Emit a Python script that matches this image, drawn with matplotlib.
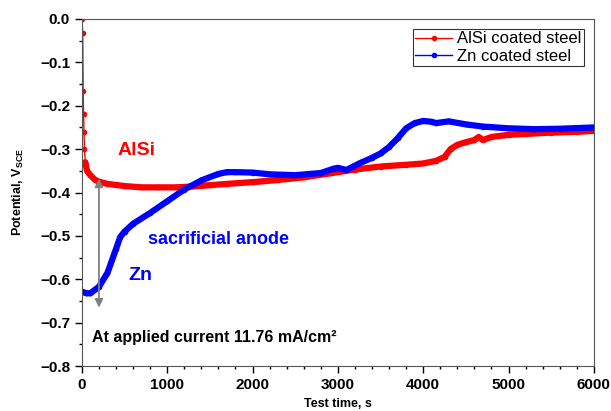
import matplotlib
matplotlib.use("Agg")
import matplotlib.pyplot as plt

plt.rcParams["font.family"] = ["Liberation Sans", "DejaVu Sans"]
plt.rcParams["mathtext.fontset"] = "custom"
plt.rcParams["mathtext.rm"] = "Liberation Sans"
plt.rcParams["mathtext.bf"] = "Liberation Sans:bold"

# AlSi coated steel (time in s, potential in V vs SCE)
alsi_t = [0, 10, 15, 20, 25, 30, 40, 60, 100, 150, 200, 300, 500, 700, 900, 1100,
          1300, 1500, 1700, 2000, 2300, 2600, 2900, 3200, 3500, 3800, 4000, 4150,
          4250, 4320, 4400, 4500, 4600, 4650, 4700, 4800, 5000, 5200, 5500, 5800, 6000]
alsi_v = [-0.0, -0.033, -0.165, -0.22, -0.26, -0.30, -0.33, -0.35, -0.36, -0.37,
          -0.375, -0.38, -0.385, -0.388, -0.388, -0.388, -0.386, -0.383, -0.38,
          -0.376, -0.371, -0.365, -0.356, -0.347, -0.34, -0.336, -0.333, -0.327,
          -0.318, -0.30, -0.29, -0.284, -0.279, -0.272, -0.279, -0.272, -0.267,
          -0.265, -0.262, -0.26, -0.258]

# Zn coated steel
zn_t = [0, 50, 100, 200, 300, 400, 450, 500, 600, 800, 1000, 1200, 1400, 1600,
        1700, 1800, 2000, 2200, 2500, 2800, 2950, 3000, 3100, 3250, 3400, 3500,
        3600, 3700, 3800, 3900, 4000, 4100, 4150, 4300, 4500, 4700, 5000, 5300,
        5600, 6000]
zn_v = [-0.628, -0.632, -0.632, -0.617, -0.585, -0.53, -0.502, -0.49, -0.472,
        -0.447, -0.42, -0.393, -0.372, -0.357, -0.353, -0.353, -0.354, -0.358,
        -0.36, -0.355, -0.345, -0.343, -0.348, -0.333, -0.32, -0.31, -0.295,
        -0.275, -0.252, -0.24, -0.235, -0.237, -0.24, -0.236, -0.243, -0.248,
        -0.252, -0.254, -0.253, -0.25]

RED = "#ff0000"
BLUE = "#0000ff"

fig = plt.figure(figsize=(6.11, 4.11), dpi=100)
ax = fig.add_axes([0.134, 0.109, 0.838, 0.845])

# thin line with dots (also used for the legend), then a thick trace on top
ax.plot(alsi_t, alsi_v, color=RED, lw=1, marker="o", ms=3, label="AlSi coated steel")
ax.plot(alsi_t[6:], alsi_v[6:], color=RED, lw=4.5, solid_capstyle="round")
ax.plot(zn_t, zn_v, color=BLUE, lw=1, marker="o", ms=3, label="Zn coated steel")
ax.plot(zn_t, zn_v, color=BLUE, lw=4.5, solid_capstyle="round")

# gray double-headed arrow showing potential gap
ax.annotate("", xy=(200, -0.665), xytext=(200, -0.368),
            arrowprops=dict(arrowstyle="<|-|>", color="#808080", lw=1.3,
                            mutation_scale=12, shrinkA=0, shrinkB=0))

ax.text(420, -0.302, "AlSi", color=RED, fontsize=14, fontweight="bold", va="center")
ax.text(770, -0.507, "sacrificial anode", color=BLUE, fontsize=13, fontweight="bold", va="center")
ax.text(540, -0.59, "Zn", color=BLUE, fontsize=14, fontweight="bold", va="center")
ax.text(115, -0.735, "At applied current 11.76 mA/cm²", color="black", fontsize=11.5,
        fontweight="bold", va="center")

ax.set_xlim(0, 6000)
ax.set_ylim(-0.8, 0.0)
ax.set_xticks(range(0, 6001, 1000))
ax.set_xticks(range(0, 6001, 200), minor=True)
ax.set_yticks([-0.8, -0.7, -0.6, -0.5, -0.4, -0.3, -0.2, -0.1, 0.0])
ax.set_yticks([-0.8 + 0.05 * i for i in range(17)], minor=True)
ax.set_yticklabels(["\u22120.8", "\u22120.7", "\u22120.6", "\u22120.5", "\u22120.4",
                    "\u22120.3", "\u22120.2", "\u22120.1", "0.0"])

ax.tick_params(which="major", direction="out", length=5, width=1, labelsize=11)
ax.tick_params(which="minor", direction="out", length=2.5, width=1)
for lab in ax.get_xticklabels() + ax.get_yticklabels():
    lab.set_fontweight("bold")
for sp in ax.spines.values():
    sp.set_color("#555555")

ax.set_xlabel("Test time, s", fontsize=9, fontweight="bold", labelpad=4)
ax.set_ylabel(r"Potential, V$_\mathbf{SCE}$", fontsize=9, fontweight="bold", labelpad=10)

leg = ax.legend(loc="upper right", fontsize=12, frameon=True, fancybox=False,
                handlelength=2.2, borderpad=0.15, labelspacing=0.15, handletextpad=0.3,
                borderaxespad=0.6)
leg.get_frame().set_edgecolor("black")
leg.get_frame().set_linewidth(0.8)

fig.savefig("out.png", dpi=100)
